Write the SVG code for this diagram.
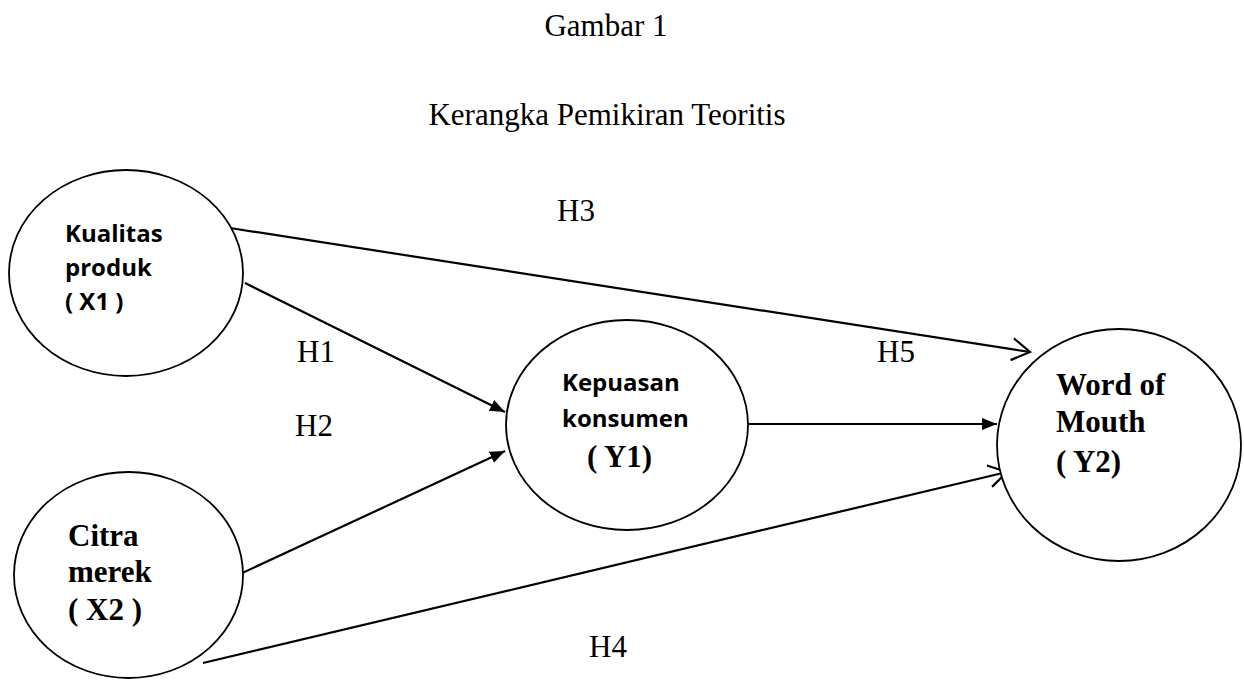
<svg xmlns="http://www.w3.org/2000/svg" width="1244" height="687" viewBox="0 0 1244 687">
<defs>
<marker id="fill" markerWidth="16" markerHeight="14" refX="15" refY="7" orient="auto" markerUnits="userSpaceOnUse">
<path d="M0,1 L15,7 L0,13 Z" fill="#000"/>
</marker>
<marker id="open" markerWidth="22" markerHeight="26" refX="20" refY="13" orient="auto" markerUnits="userSpaceOnUse">
<path d="M2,2 L20,13 L2,24" fill="none" stroke="#000" stroke-width="2.2"/>
</marker>
</defs>
<style>
.node ellipse{fill:#fff;stroke:#000;stroke-width:1.8}
.sans{font-family:"Open Sans","Liberation Sans",sans-serif;font-weight:bold;font-size:24px;fill:#000}
.serifb{font-family:"Liberation Serif",serif;font-weight:bold;font-size:31px;fill:#000}
.serif{font-family:"Liberation Serif",serif;font-size:31px;fill:#000}
.edge{stroke:#000;stroke-width:2.2;fill:none}
</style>
<rect width="1244" height="687" fill="#fff"/>
<text class="serif" x="606" y="36" text-anchor="middle">Gambar 1</text>
<text class="serif" x="607" y="125" text-anchor="middle">Kerangka Pemikiran Teoritis</text>
<g id="connectors">
<line class="edge" x1="230" y1="228" x2="1030" y2="352" marker-end="url(#open)"/>
<line class="edge" x1="245" y1="283" x2="505" y2="412" marker-end="url(#fill)"/>
<line class="edge" x1="238" y1="575" x2="505" y2="451" marker-end="url(#fill)"/>
<line class="edge" x1="748" y1="424" x2="997" y2="424" marker-end="url(#fill)"/>
<line class="edge" x1="203" y1="663" x2="1007" y2="472" marker-end="url(#open)"/>
</g>
<g id="labels">
<text class="serif" x="557" y="221">H3</text>
<text class="serif" x="297" y="362">H1</text>
<text class="serif" x="295" y="436">H2</text>
<text class="serif" x="877" y="362">H5</text>
<text class="serif" x="589" y="657">H4</text>
</g>
<g id="x1" class="node">
<ellipse cx="126" cy="273" rx="117" ry="103"/>
<text class="sans" x="65" y="242">Kualitas</text>
<text class="sans" x="65" y="276">produk</text>
<text class="sans" x="65" y="310">( X1 )</text>
</g>
<g id="x2" class="node">
<ellipse cx="128.5" cy="575" rx="114.5" ry="103"/>
<text class="serifb" x="68" y="546">Citra</text>
<text class="serifb" x="68" y="582">merek</text>
<text class="serifb" x="68" y="620">( X2 )</text>
</g>
<g id="y1" class="node">
<ellipse cx="627" cy="425" rx="121" ry="105"/>
<text class="sans" x="562" y="391">Kepuasan</text>
<text class="sans" x="562" y="427">konsumen</text>
<text class="serifb" x="587" y="467">( Y1)</text>
</g>
<g id="y2" class="node">
<ellipse cx="1119" cy="445" rx="122" ry="116"/>
<text class="serifb" x="1056" y="395">Word of</text>
<text class="serifb" x="1056" y="432">Mouth</text>
<text class="serifb" x="1056" y="472">( Y2)</text>
</g>
</svg>
